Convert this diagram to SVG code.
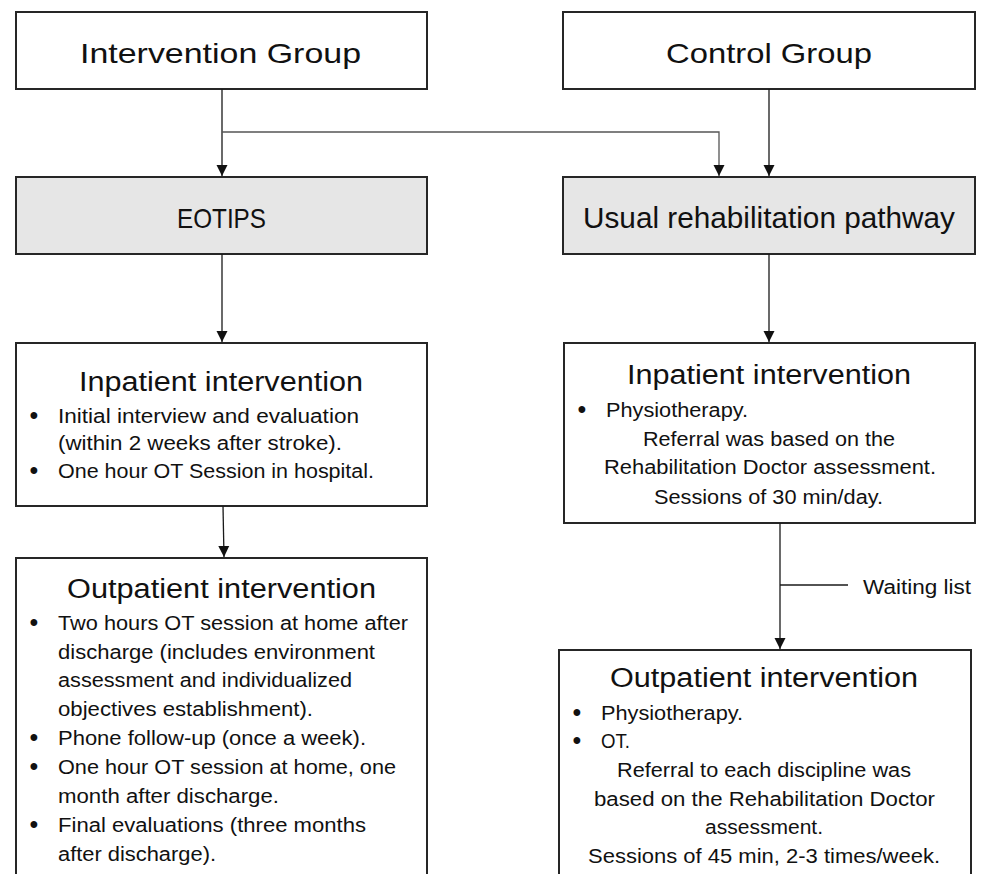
<svg xmlns="http://www.w3.org/2000/svg" width="984" height="874" viewBox="0 0 984 874">
<style>
.box{fill:#ffffff;stroke:#262626;stroke-width:2}
.grey{fill:#e6e6e6;stroke:#262626;stroke-width:2}
text{font-family:"Liberation Sans",Arial,sans-serif;fill:#111111}
.h1{font-size:28px}
.h2{font-size:29px}
.t{font-size:27px}
.b{font-size:20px}
.bl{font-size:25px;text-anchor:middle}
.conn line,.conn path{stroke:#1a1a1a;stroke-width:1.3;fill:none}
</style>
<defs>
<marker id="arr" markerUnits="userSpaceOnUse" markerWidth="12" markerHeight="12" viewBox="0 0 12 12" refX="11" refY="6" orient="auto">
<path d="M0,0.5 L11,6 L0,11.5 Z" fill="#111111"/>
</marker>
</defs>
<rect width="984" height="874" fill="#ffffff"/>

<g id="intervention-group">
<rect class="box" x="16" y="12" width="411" height="77"/>
<text class="h1" x="80" y="63" textLength="281" lengthAdjust="spacingAndGlyphs">Intervention Group</text>
</g>
<g id="control-group">
<rect class="box" x="563" y="12" width="412" height="77"/>
<text class="h1" x="666" y="63" textLength="206" lengthAdjust="spacingAndGlyphs">Control Group</text>
</g>
<g id="eotips">
<rect class="grey" x="16" y="177" width="411" height="77"/>
<text class="h2" x="177" y="228" textLength="89" lengthAdjust="spacingAndGlyphs" style="font-size:28px">EOTIPS</text>
</g>
<g id="usual-pathway">
<rect class="grey" x="563" y="177" width="412" height="77"/>
<text class="h2" x="583" y="228" textLength="372" lengthAdjust="spacingAndGlyphs">Usual rehabilitation pathway</text>
</g>

<g id="inpatient-left">
<rect class="box" x="16" y="343" width="411" height="163"/>
<text class="t" x="79" y="391" textLength="284" lengthAdjust="spacingAndGlyphs">Inpatient intervention</text>
<text class="bl" x="34" y="424">•</text>
<text class="b" x="58" y="423" textLength="301" lengthAdjust="spacingAndGlyphs">Initial interview and evaluation</text>
<text class="b" x="58" y="450" textLength="284" lengthAdjust="spacingAndGlyphs">(within 2 weeks after stroke).</text>
<text class="bl" x="34" y="479">•</text>
<text class="b" x="58" y="478" textLength="316" lengthAdjust="spacingAndGlyphs">One hour OT Session in hospital.</text>
</g>

<g id="inpatient-right">
<rect class="box" x="564" y="343" width="411" height="180"/>
<text class="t" x="627" y="384" textLength="284" lengthAdjust="spacingAndGlyphs">Inpatient intervention</text>
<text class="bl" x="582" y="418">•</text>
<text class="b" x="606" y="417" textLength="142" lengthAdjust="spacingAndGlyphs">Physiotherapy.</text>
<text class="b" x="643" y="446" textLength="252" lengthAdjust="spacingAndGlyphs">Referral was based on the</text>
<text class="b" x="604" y="474" textLength="332" lengthAdjust="spacingAndGlyphs">Rehabilitation Doctor assessment.</text>
<text class="b" x="654" y="504" textLength="229" lengthAdjust="spacingAndGlyphs">Sessions of 30 min/day.</text>
</g>

<g id="outpatient-left">
<rect class="box" x="16" y="558" width="411" height="330"/>
<text class="t" x="67" y="598" textLength="309" lengthAdjust="spacingAndGlyphs">Outpatient intervention</text>
<text class="bl" x="34" y="631">•</text>
<text class="b" x="58" y="630" textLength="350" lengthAdjust="spacingAndGlyphs">Two hours OT session at home after</text>
<text class="b" x="58" y="659" textLength="317" lengthAdjust="spacingAndGlyphs">discharge (includes environment</text>
<text class="b" x="58" y="687" textLength="294" lengthAdjust="spacingAndGlyphs">assessment and individualized</text>
<text class="b" x="58" y="716" textLength="255" lengthAdjust="spacingAndGlyphs">objectives establishment).</text>
<text class="bl" x="34" y="746">•</text>
<text class="b" x="58" y="745" textLength="308" lengthAdjust="spacingAndGlyphs">Phone follow-up (once a week).</text>
<text class="bl" x="34" y="775">•</text>
<text class="b" x="58" y="774" textLength="338" lengthAdjust="spacingAndGlyphs">One hour OT session at home, one</text>
<text class="b" x="58" y="803" textLength="221" lengthAdjust="spacingAndGlyphs">month after discharge.</text>
<text class="bl" x="34" y="833">•</text>
<text class="b" x="58" y="832" textLength="308" lengthAdjust="spacingAndGlyphs">Final evaluations (three months</text>
<text class="b" x="58" y="861" textLength="158" lengthAdjust="spacingAndGlyphs">after discharge).</text>
</g>

<g id="outpatient-right">
<rect class="box" x="559" y="650" width="412" height="240"/>
<text class="t" x="610" y="687" textLength="308" lengthAdjust="spacingAndGlyphs">Outpatient intervention</text>
<text class="bl" x="577" y="721">•</text>
<text class="b" x="601" y="720" textLength="142" lengthAdjust="spacingAndGlyphs">Physiotherapy.</text>
<text class="bl" x="577" y="749">•</text>
<text class="b" x="601" y="748" textLength="29" lengthAdjust="spacingAndGlyphs">OT.</text>
<text class="b" x="617" y="777" textLength="294" lengthAdjust="spacingAndGlyphs">Referral to each discipline was</text>
<text class="b" x="594" y="806" textLength="341" lengthAdjust="spacingAndGlyphs">based on the Rehabilitation Doctor</text>
<text class="b" x="705" y="834" textLength="118" lengthAdjust="spacingAndGlyphs">assessment.</text>
<text class="b" x="588" y="863" textLength="352" lengthAdjust="spacingAndGlyphs">Sessions of 45 min, 2-3 times/week.</text>
</g>

<g id="waiting-list-label">
<text class="b" x="863" y="594" textLength="108" lengthAdjust="spacingAndGlyphs">Waiting list</text>
</g>

<g id="connectors" class="conn">
<line x1="222" y1="89" x2="222" y2="176" marker-end="url(#arr)"/>
<path d="M222,132 H719 V176" marker-end="url(#arr)" style="stroke:#555555"/>
<line x1="769" y1="89" x2="769" y2="176" marker-end="url(#arr)"/>
<line x1="222" y1="254" x2="222" y2="342" marker-end="url(#arr)"/>
<line x1="769" y1="254" x2="769" y2="342" marker-end="url(#arr)"/>
<line x1="223" y1="506" x2="224" y2="557" marker-end="url(#arr)"/>
<line x1="780" y1="523" x2="780" y2="649" marker-end="url(#arr)"/>
<line x1="780" y1="585" x2="848" y2="585"/>
</g>
</svg>
